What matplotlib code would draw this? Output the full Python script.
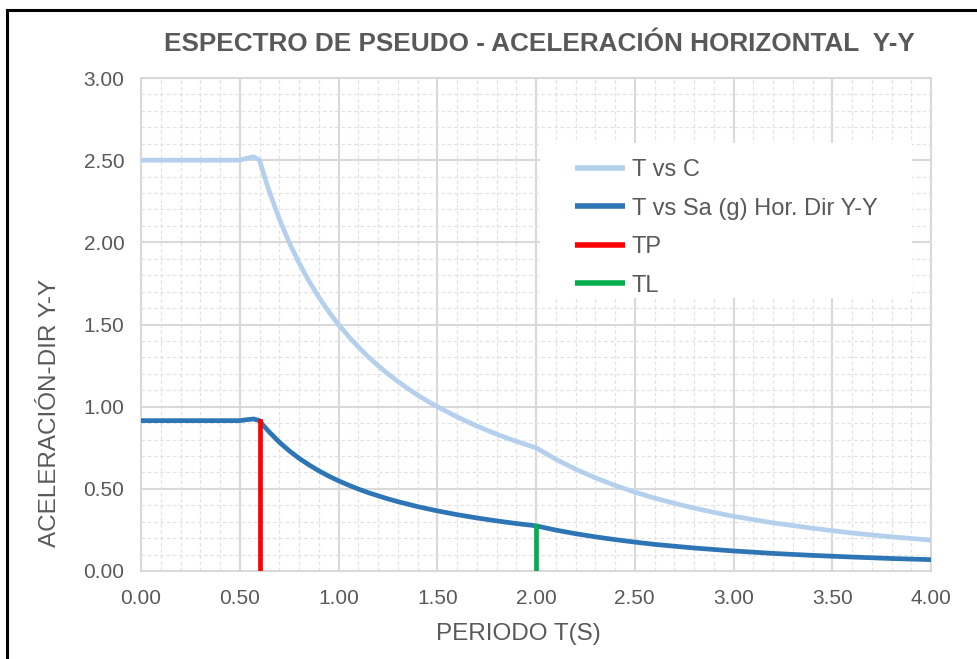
import matplotlib
matplotlib.use("Agg")
import matplotlib.pyplot as plt
from matplotlib.ticker import MultipleLocator, FormatStrFormatter
from matplotlib.lines import Line2D
from matplotlib.patches import Rectangle

plt.rcParams['font.family'] = ['Liberation Sans', 'DejaVu Sans']

# Data
T = [0.00, 0.10, 0.20, 0.30, 0.40, 0.50, 0.53, 0.57, 0.60, 0.62, 0.65, 0.70, 0.75,
     0.80, 0.85, 0.90, 0.95, 1.00, 1.05, 1.10, 1.15, 1.20, 1.25, 1.30, 1.35,
     1.40, 1.45, 1.50, 1.60, 1.70, 1.80, 1.90, 2.00, 2.10, 2.20, 2.30, 2.40,
     2.50, 2.60, 2.70, 2.80, 2.90, 3.00, 3.20, 3.40, 3.60, 3.80, 4.00]
C = [2.500, 2.500, 2.500, 2.500, 2.500, 2.500, 2.510, 2.520, 2.500, 2.420, 2.308, 2.143, 2.000,
     1.875, 1.765, 1.667, 1.579, 1.500, 1.429, 1.364, 1.304, 1.250, 1.200, 1.154, 1.111,
     1.071, 1.034, 1.000, 0.938, 0.882, 0.833, 0.789, 0.750, 0.680, 0.620, 0.567, 0.521,
     0.480, 0.444, 0.412, 0.383, 0.357, 0.333, 0.293, 0.260, 0.231, 0.208, 0.188]
Sa = [0.915, 0.915, 0.915, 0.915, 0.915, 0.915, 0.920, 0.925, 0.915, 0.885, 0.845, 0.784, 0.732,
      0.686, 0.646, 0.610, 0.578, 0.549, 0.523, 0.499, 0.477, 0.458, 0.439, 0.422, 0.407,
      0.392, 0.379, 0.366, 0.343, 0.323, 0.305, 0.289, 0.275, 0.249, 0.227, 0.208, 0.191,
      0.176, 0.162, 0.151, 0.140, 0.131, 0.122, 0.107, 0.095, 0.085, 0.076, 0.069]
TP_x = [0.60, 0.60]
TP_y = [0.00, 0.915]
TL_x = [2.00, 2.00]
TL_y = [0.00, 0.275]

title = "ESPECTRO DE PSEUDO - ACELERACIÓN HORIZONTAL  Y-Y"
labels = ["T vs C", "T vs Sa (g) Hor. Dir Y-Y", "TP", "TL"]

W, H = 977, 659
fig = plt.figure(figsize=(W / 100, H / 100), dpi=100)
ax = fig.add_axes([141 / W, 1 - 571 / H, (931 - 141) / W, (571 - 78) / H])

gray_txt = '#595959'
c_light = '#B4D0EC'
c_dark = '#2E75B6'
c_red = '#FF0000'
c_green = '#00B050'

kw = dict(lw=3.4, solid_capstyle='round', solid_joinstyle='round')
l1, = ax.plot(T, C, color=c_light, zorder=3, **kw)
l2, = ax.plot(T, Sa, color=c_dark, zorder=4, **kw)
l3, = ax.plot(TP_x, TP_y, color=c_red, lw=3.4, zorder=5)
l4, = ax.plot(TL_x, TL_y, color=c_green, lw=3.4, zorder=5)

ax.set_xlim(0, 4)
ax.set_ylim(0, 3)
ax.xaxis.set_major_locator(MultipleLocator(0.5))
ax.xaxis.set_minor_locator(MultipleLocator(0.1))
ax.yaxis.set_major_locator(MultipleLocator(0.5))
ax.yaxis.set_minor_locator(MultipleLocator(0.1))
ax.xaxis.set_major_formatter(FormatStrFormatter('%.2f'))
ax.yaxis.set_major_formatter(FormatStrFormatter('%.2f'))
ax.grid(which='major', color='#D9D9D9', lw=1.5, ls='-', zorder=0)
ax.grid(which='minor', color='#E3E3E3', lw=0.9, ls=(0, (3, 2)), zorder=0)
ax.set_axisbelow(True)
for s in ax.spines.values():
    s.set_color('#D9D9D9')
    s.set_linewidth(1.5)
ax.tick_params(which='both', length=0)
ax.tick_params(axis='x', pad=13, labelsize=15, labelcolor=gray_txt)
ax.tick_params(axis='y', pad=12, labelsize=15, labelcolor=gray_txt)

fig.text(539 / W, 1 - 44 / H, title, ha='center', va='center', fontsize=18.8,
         fontweight='bold', color=gray_txt)
fig.text(518 / W, 1 - 634 / H, "PERIODO T(S)", ha='center', va='center',
         fontsize=17.5, color=gray_txt)
fig.text(50 / W, 1 - 413 / H, "ACELERACIÓN-DIR Y-Y", ha='center', va='center',
         fontsize=17.5, color=gray_txt, rotation=90)

# white legend background box
ax.add_patch(Rectangle((540 / W, 1 - 298 / H), (912 - 540) / W, (298 - 143) / H,
                       transform=fig.transFigure, facecolor='white',
                       edgecolor='none', zorder=2, clip_on=False))

leg = fig.legend([l1, l2, l3, l4], labels, loc='upper left',
                 bbox_to_anchor=(575 / W, 1 - 159 / H), frameon=False,
                 fontsize=17, handlelength=2.1, handletextpad=0.3,
                 labelspacing=0.70, borderpad=0, borderaxespad=0)
for t in leg.get_texts():
    t.set_color(gray_txt)
for h in leg.legend_handles:
    h.set_linewidth(4)
    h.set_solid_capstyle('butt')

# outer frame (left and top edges visible)
fig.add_artist(Line2D([7 / W, 7 / W], [0, 1 - 10 / H], color='black', lw=2.2,
                      transform=fig.transFigure))
fig.add_artist(Line2D([7 / W, 1], [1 - 10 / H, 1 - 10 / H], color='black', lw=2.2,
                      transform=fig.transFigure))

fig.savefig('out.png', dpi=100)
